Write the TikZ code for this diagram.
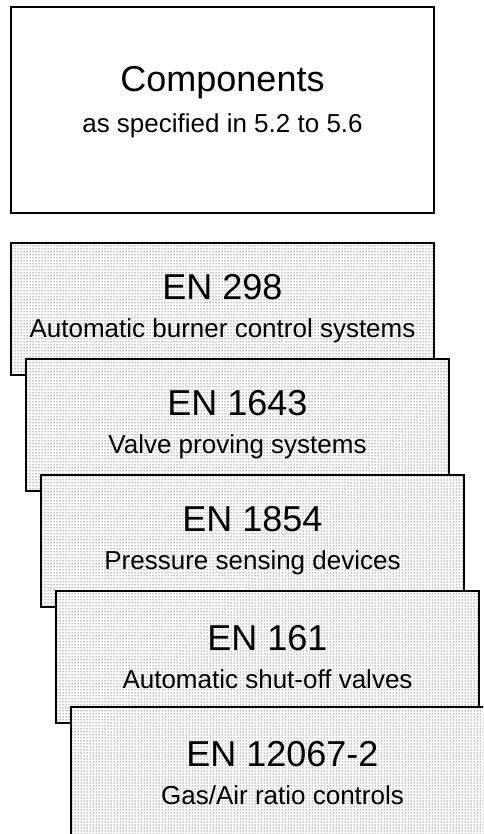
\documentclass[tikz,border=0pt]{standalone}
\usepackage{fontspec}
\setmainfont{Liberation Sans}
\usetikzlibrary{positioning, patterns}

\newcommand{\entitle}[1]{{\fontsize{36}{36}\selectfont #1}}

\begin{document}
\begin{tikzpicture}[
        x=1pt, y=1pt,
        plainbox/.style={rectangle, draw, line width=2pt, outer sep=0pt, minimum width=423pt, align=center},
        enbox/.style={plainbox, minimum height=132pt, preaction={fill=white}, pattern=dots, pattern color=black, font=\fontsize{26}{38}\selectfont}
    ]
    \useasboundingbox (0,0) rectangle (483,-834);
    \clip (0,0) rectangle (483,-834);
    \node[plainbox, minimum height=206pt, anchor=north west, text depth=22pt, font=\fontsize{26}{41}\selectfont] (comp) at (11,-7) {\entitle{Components}\\as specified in 5.2 to 5.6};
    \node[enbox, below=30pt of comp] (en1) {\entitle{EN 298}\\Automatic burner control systems};
    \node[enbox, below right=-16pt and -408pt of en1] (en2) {\entitle{EN 1643}\\Valve proving systems};
    \node[enbox, below right=-16pt and -408pt of en2] (en3) {\entitle{EN 1854}\\Pressure sensing devices};
    \node[enbox, below right=-16pt and -408pt of en3] (en4) {\entitle{EN 161}\\Automatic shut-off valves};
    \node[enbox, below right=-16pt and -408pt of en4] (en5) {\entitle{EN 12067-2}\\Gas/Air ratio controls};
\end{tikzpicture}
\end{document}
